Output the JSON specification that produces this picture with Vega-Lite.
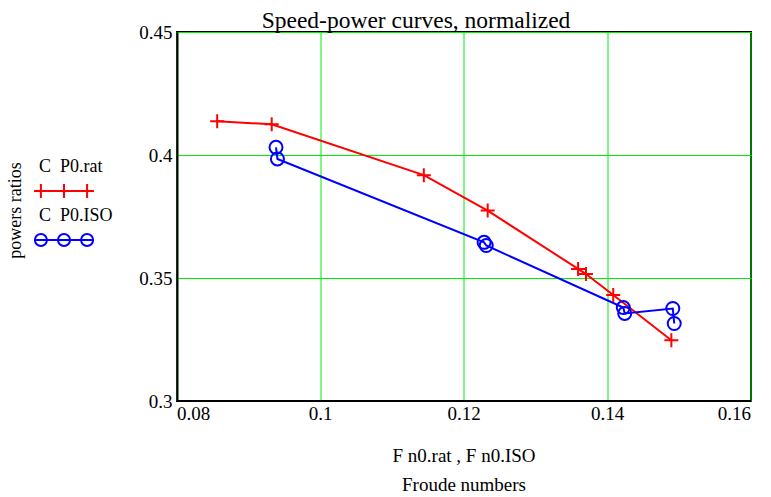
{
  "$schema": "https://vega.github.io/schema/vega-lite/v6.json",
  "width": 574,
  "height": 369,
  "autosize": {"type": "none"},
  "padding": {"left": 177, "top": 32, "right": 20, "bottom": 96},
  "background": "white",
  "title": {
    "text": "Speed-power curves, normalized",
    "font": "Liberation Serif",
    "fontSize": 23.5,
    "fontWeight": "normal",
    "color": "black",
    "anchor": "middle",
    "baseline": "alphabetic",
    "offset": 5,
    "dx": -48,
    "dy": 33
  },
  "config": {
    "font": "Liberation Serif",
    "view": {"stroke": "black", "strokeWidth": 2},
    "axis": {
      "labelFont": "Liberation Serif",
      "titleFont": "Liberation Serif",
      "ticks": false,
      "domainColor": "black",
      "domainWidth": 2,
      "gridColor": "#00ee00",
      "gridWidth": 1,
      "gridOpacity": 1
    }
  },
  "data": {
    "values": [
      {"series": "C P0.rat", "i": 1, "F": 0.0856, "C": 0.4137},
      {"series": "C P0.rat", "i": 2, "F": 0.0932, "C": 0.4125},
      {"series": "C P0.rat", "i": 3, "F": 0.1144, "C": 0.3918},
      {"series": "C P0.rat", "i": 4, "F": 0.1233, "C": 0.3774},
      {"series": "C P0.rat", "i": 5, "F": 0.1359, "C": 0.3537},
      {"series": "C P0.rat", "i": 6, "F": 0.1370, "C": 0.3516},
      {"series": "C P0.rat", "i": 7, "F": 0.1408, "C": 0.3431},
      {"series": "C P0.rat", "i": 8, "F": 0.1489, "C": 0.3247},
      {"series": "C P0.ISO", "i": 1, "F": 0.0938, "C": 0.4031},
      {"series": "C P0.ISO", "i": 2, "F": 0.0940, "C": 0.3984},
      {"series": "C P0.ISO", "i": 3, "F": 0.1228, "C": 0.3645},
      {"series": "C P0.ISO", "i": 4, "F": 0.1231, "C": 0.3632},
      {"series": "C P0.ISO", "i": 5, "F": 0.1422, "C": 0.3380},
      {"series": "C P0.ISO", "i": 6, "F": 0.1424, "C": 0.3356},
      {"series": "C P0.ISO", "i": 7, "F": 0.1491, "C": 0.3376},
      {"series": "C P0.ISO", "i": 8, "F": 0.1493, "C": 0.3315}
    ]
  },
  "encoding": {
    "x": {
      "field": "F",
      "type": "quantitative",
      "scale": {"domain": [0.08, 0.16], "nice": false, "zero": false},
      "axis": {
        "values": [0.08, 0.1, 0.12, 0.14, 0.16],
        "format": "~g",
        "translate": 0,
        "labelFont": "Liberation Serif",
        "labelFontSize": 19,
        "labelFontWeight": "normal",
        "labelColor": "black",
        "labelPadding": 4,
        "title": ["F n0.rat , F n0.ISO", "Froude numbers"],
        "titleFont": "Liberation Serif",
        "titleFontSize": 19,
        "titleFontWeight": "normal",
        "titleColor": "black",
        "titleLineHeight": 29,
        "titlePadding": 23
      }
    },
    "y": {
      "field": "C",
      "type": "quantitative",
      "scale": {"domain": [0.3, 0.45], "nice": false, "zero": false},
      "axis": {
        "values": [0.3, 0.35, 0.4, 0.45],
        "format": "~g",
        "labelFont": "Liberation Serif",
        "labelFontSize": 19,
        "labelFontWeight": "normal",
        "labelColor": "black",
        "labelPadding": 5,
        "title": "powers ratios",
        "titleFont": "Liberation Serif",
        "titleFontSize": 18,
        "titleFontWeight": "normal",
        "titleColor": "black",
        "titleX": -153,
        "titleY": 178
      }
    },
    "color": {
      "field": "series",
      "type": "nominal",
      "scale": {"domain": ["C P0.rat", "C P0.ISO"], "range": ["#ff0000", "#0000ff"]},
      "legend": {
        "title": null,
        "orient": "none",
        "legendX": -144,
        "legendY": 128,
        "padding": 0,
        "symbolSize": 3600,
        "symbolStrokeWidth": 2,
        "symbolFillColor": "transparent",
        "labelFont": "Liberation Serif",
        "labelFontSize": 18,
        "labelColor": "black",
        "labelOffset": -56,
        "labelExpr": "replace(datum.label, ' ', '\u00a0 ')",
        "rowPadding": 5,
        "encode": {
          "symbols": {
            "update": {
              "shape": {"signal": "datum.value === 'C P0.rat' ? 'M-1,0H1M-0.77,-0.23V0.23M0,-0.23V0.23M0.77,-0.23V0.23' : 'M-1,0H1M-0.57,0A0.2,0.2,0,1,1,-0.97,0A0.2,0.2,0,1,1,-0.57,0ZM0.2,0A0.2,0.2,0,1,1,-0.2,0A0.2,0.2,0,1,1,0.2,0ZM0.97,0A0.2,0.2,0,1,1,0.57,0A0.2,0.2,0,1,1,0.97,0Z'"},
              "fill": {"value": "transparent"},
              "strokeWidth": {"value": 2}
            }
          },
          "labels": {
            "update": {
              "dy": {"value": -19},
              "baseline": {"value": "alphabetic"}
            }
          }
        }
      }
    }
  },
  "layer": [
    {
      "mark": {"type": "line", "strokeWidth": 2},
      "encoding": {"order": {"field": "i", "type": "quantitative"}}
    },
    {
      "transform": [{"filter": "datum.series === 'C P0.rat'"}],
      "mark": {"type": "point", "shape": "M-1,0H1M0,-1V1", "filled": false, "strokeWidth": 2, "size": 196, "opacity": 1}
    },
    {
      "transform": [{"filter": "datum.series === 'C P0.ISO'"}],
      "mark": {"type": "point", "shape": "circle", "filled": false, "strokeWidth": 2, "size": 169, "opacity": 1}
    }
  ]
}
